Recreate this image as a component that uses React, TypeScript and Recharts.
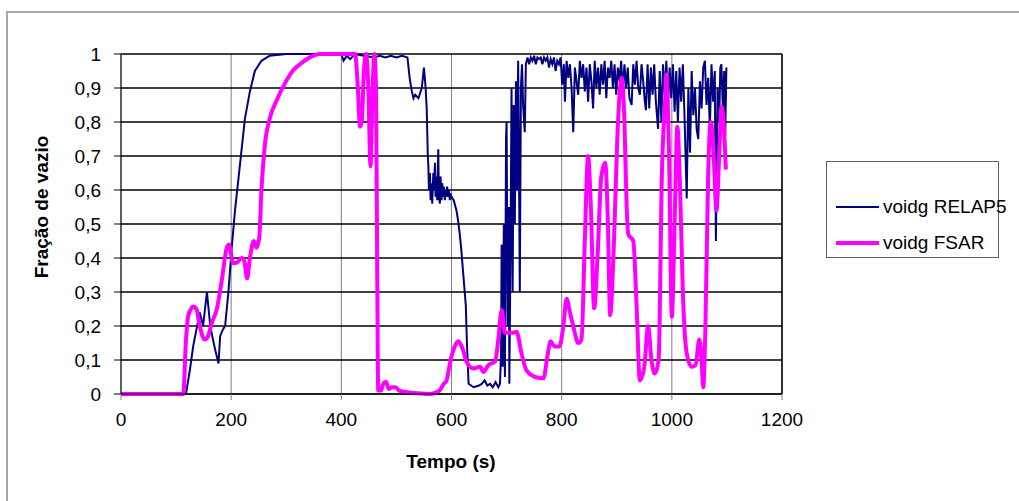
import { LineChart, Line, XAxis, YAxis, CartesianGrid, ReferenceLine } from 'recharts';

// RELAP5 void fraction (time in s, value)
const relapTime = [
  0, 100, 118, 125, 131, 137, 143, 149, 156, 162, 167, 171, 177, 180, 185, 189, 195, 201, 207, 213, 219, 225, 234, 243,
  255, 270, 300, 400, 404, 410, 416, 425, 440, 460, 470, 480, 490, 500, 510, 520, 524, 528, 531, 534, 540, 546, 550,
  553, 555, 557, 558, 559, 561, 562, 564, 565, 567, 568, 570, 571, 573, 574, 576, 577, 579, 580, 582, 583, 585, 586,
  588, 589, 591, 592, 594, 595, 597, 598, 600, 604, 609, 612, 615, 618, 621,
  624, 626, 628, 631, 640, 650, 655, 660, 665, 670, 675, 680, 685, 688, 690, 691, 693, 695, 697, 699, 700, 702, 704,
  705, 707, 709, 711, 713, 715, 717, 719, 721, 723, 724, 726, 728, 730, 733, 735, 738, 741, 744, 747, 750, 753, 756,
  759, 762, 765, 768, 771, 774, 777, 780, 783, 786, 789, 792, 795, 798, 801, 804, 806, 809, 812, 815, 818, 821, 824,
  827, 830, 833, 836, 839, 842, 845, 848, 851, 854, 857, 860, 863, 866, 869, 872, 875, 878, 881, 884, 887, 890, 893,
  896, 899, 902, 905, 908, 911, 914, 917, 920, 923, 927, 930, 933, 936, 939, 942, 945, 948, 951, 953, 956, 959, 962,
  965, 968, 971, 975, 978, 981, 984, 987, 990, 993, 996, 999, 1002, 1005, 1008, 1011, 1014, 1017, 1020, 1023, 1027,
  1030, 1033, 1036, 1039, 1042, 1045, 1048, 1051, 1054, 1057, 1060, 1063, 1066, 1069, 1072, 1075, 1078, 1080, 1083,
  1086, 1088, 1090, 1093, 1095, 1097, 1099,
];
const relapVoid = [
  0, 0, 0, 0.07, 0.14, 0.19, 0.24, 0.2, 0.3, 0.2, 0.16, 0.13, 0.09, 0.17, 0.19, 0.2, 0.3, 0.43, 0.54, 0.63, 0.72, 0.81,
  0.89, 0.95, 0.98, 0.995, 1, 1, 0.98, 0.995, 0.985, 1, 0.995, 0.99, 0.995, 0.99, 0.995, 0.99, 0.995, 0.99, 0.93, 0.89,
  0.87, 0.88, 0.87, 0.9, 0.96,
  0.9, 0.84, 0.7, 0.67, 0.6, 0.65, 0.57, 0.62, 0.56, 0.65, 0.6, 0.68, 0.58, 0.64, 0.57, 0.72, 0.58, 0.56, 0.64, 0.57,
  0.62, 0.58, 0.61, 0.57, 0.6, 0.58, 0.61, 0.58, 0.6, 0.57, 0.59, 0.58, 0.57, 0.54, 0.51, 0.47, 0.42, 0.36,
  0.3, 0.26, 0.15, 0.03, 0.02, 0.025, 0.03, 0.04, 0.025, 0.03, 0.02,
  0.035, 0.02, 0.03, 0.12, 0.44, 0.08, 0.5, 0.05, 0.75, 0.8, 0.2, 0.55, 0.03, 0.4, 0.9, 0.3, 0.85, 0.5, 0.92, 0.6,
  0.98, 0.55, 0.3, 0.9, 0.97, 0.85, 0.77, 0.97, 0.99, 0.97, 0.99, 0.98, 0.995, 0.97, 0.99, 0.985, 0.99, 0.97, 0.99,
  0.98, 0.99, 0.96, 0.985, 0.97, 0.99, 0.95, 0.98, 0.97, 0.99, 0.91, 0.97, 0.86, 0.98, 0.93, 0.97, 0.9, 0.77, 0.96,
  0.92, 0.88, 0.98, 0.93, 0.97, 0.89, 0.96, 0.86, 0.97, 0.92, 0.84, 0.98, 0.9, 0.96, 0.88, 0.97, 0.91, 0.98, 0.87,
  0.96, 0.93, 0.98, 0.9, 0.97, 0.88, 0.96, 0.92, 0.98, 0.89, 0.97, 0.9, 0.96, 0.87, 0.85, 0.97, 0.91, 0.98, 0.9, 0.88,
  0.97, 0.92, 0.86, 0.835, 0.97, 0.84, 0.96, 0.88, 0.97, 0.86, 0.78, 0.95, 0.8, 0.97, 0.88, 0.98, 0.85, 0.96, 0.87,
  0.97, 0.83, 0.95, 0.8, 0.96, 0.86, 0.97, 0.82, 0.575, 0.9, 0.71, 0.95, 0.82, 0.9, 0.78, 0.75, 0.92, 0.84, 0.96,
  0.98, 0.85, 0.93, 0.78, 0.97, 0.86, 0.95, 0.45, 0.9, 0.8, 0.96, 0.97, 0.82, 0.95, 0.76, 0.96,
];

// FSAR void fraction
const fsarTime = [
  0, 100, 113, 118, 122, 127, 131, 137, 143, 148, 152, 158, 165, 174, 183, 192, 196, 200, 203, 209, 219, 224, 229, 234,
  241, 246, 251, 255, 261, 270, 283, 298, 313, 325, 343, 361, 425, 430, 434, 437, 441, 445, 449, 453, 456, 460, 463,
  465, 467, 472, 476, 481, 486, 492, 498, 505, 520, 540, 561, 578, 586, 591, 596, 600, 606, 612, 617, 621, 626, 631,
  640, 652, 658, 667, 679, 685, 691, 697, 706, 712, 718, 727, 736, 752, 767, 774, 780, 787, 796, 803, 809, 815, 821,
  830, 836, 842, 848, 853, 859, 865, 872, 879, 884, 888, 895, 901, 909, 914, 918, 921, 930, 936, 942, 950, 957, 963,
  969, 976, 982, 988, 990, 995, 1000, 1005, 1010, 1015, 1020, 1027, 1036, 1043, 1050, 1054, 1057, 1061, 1066, 1071,
  1076, 1081, 1086, 1090, 1094, 1098,
];
const fsarVoid = [
  0, 0, 0, 0.16, 0.23, 0.25, 0.257, 0.25, 0.2, 0.17, 0.16, 0.17, 0.21, 0.25, 0.335, 0.43, 0.44, 0.41, 0.385, 0.385,
  0.4, 0.39, 0.34, 0.4, 0.45, 0.43, 0.46, 0.6, 0.73, 0.81, 0.865, 0.915, 0.953, 0.97, 0.99, 1, 1, 0.9, 0.786, 0.8,
  0.95, 1, 0.9, 0.67, 0.85, 1, 0.9, 0.4, 0.01, 0.01, 0.03, 0.036, 0.015, 0.02, 0.02, 0.01, 0.005, 0.002, 0, 0.01,
  0.03, 0.04, 0.08, 0.11, 0.14, 0.155, 0.145, 0.13, 0.1, 0.085, 0.075, 0.08, 0.065, 0.085, 0.095, 0.16, 0.247, 0.18,
  0.18, 0.18, 0.183, 0.12, 0.07, 0.05, 0.046, 0.11, 0.155, 0.14, 0.14, 0.2, 0.28, 0.24, 0.2, 0.15, 0.16, 0.45, 0.7,
  0.55, 0.252, 0.4, 0.64, 0.68, 0.5, 0.232, 0.45, 0.75, 0.93, 0.8, 0.55, 0.47, 0.45, 0.26, 0.04, 0.08, 0.2, 0.1, 0.06,
  0.1, 0.65, 0.87, 0.94, 0.7, 0.227, 0.5, 0.786, 0.6, 0.3, 0.12, 0.08, 0.085, 0.16, 0.1, 0.02, 0.2, 0.65, 0.8, 0.7,
  0.54, 0.7, 0.845, 0.8, 0.66,
];

const xTicks = [0, 200, 400, 600, 800, 1000, 1200];
const yTicks = [0, 0.1, 0.2, 0.3, 0.4, 0.5, 0.6, 0.7, 0.8, 0.9, 1];

const seriesNames = ['voidg RELAP5', 'voidg FSAR'];
const NAVY = '#000080';
const MAGENTA = '#ff00ff';
const FONT = '"Liberation Sans", Arial, sans-serif';

const relapData = relapTime.map((t, i) => ({ t, v: relapVoid[i] }));
const fsarData = fsarTime.map((t, i) => ({ t, v: fsarVoid[i] }));

const fmtY = (v: number) => String(Math.round(v * 10) / 10).replace('.', ',');

export default function App() {
  return (
    <div style={{ position: 'absolute', left: 0, top: 0, width: 1019, height: 501, background: '#fff', overflow: 'hidden', fontFamily: FONT }}>
      <div style={{ position: 'absolute', left: 6, top: 11, width: 1100, height: 600, border: '2px solid #a8a8a8' }} />
      <div style={{ position: 'absolute', left: 0, top: 0 }}>
        <LineChart width={1019} height={501} margin={{ top: 54, right: 237, left: 61, bottom: 77 }}>
          <CartesianGrid horizontal={false} stroke="#808080" strokeWidth={1} />
          <CartesianGrid vertical={false} stroke="#000" strokeWidth={1.6} />
          <XAxis
            dataKey="t"
            type="number"
            domain={[0, 1200]}
            ticks={xTicks}
            interval={0}
            height={30}
            stroke="#000"
            tickSize={6}
            tickMargin={13}
            tickLine={{ stroke: '#808080' }}
            tick={{ fill: '#000', fontSize: 19, fontFamily: FONT }}
            allowDuplicatedCategory={false}
          />
          <YAxis
            type="number"
            domain={[0, 1]}
            ticks={yTicks}
            interval={0}
            width={60}
            stroke="#000"
            tickSize={7}
            tickMargin={13}
            tickFormatter={fmtY}
            tick={{ fill: '#000', fontSize: 19, fontFamily: FONT }}
          />
          <ReferenceLine x={1200} stroke="#000" strokeWidth={1.5} />
          <Line
            data={relapData}
            dataKey="v"
            type="linear"
            stroke={NAVY}
            strokeWidth={2}
            dot={false}
            isAnimationActive={false}
            name={seriesNames[0]}
          />
          <Line
            data={fsarData}
            dataKey="v"
            type="monotone"
            stroke={MAGENTA}
            strokeWidth={4}
            dot={false}
            isAnimationActive={false}
            name={seriesNames[1]}
          />
        </LineChart>
      </div>
      <div
        style={{
          position: 'absolute', left: 42, top: 207, transform: 'translate(-50%, -50%) rotate(-90deg)',
          fontWeight: 'bold', fontSize: 19, whiteSpace: 'nowrap', color: '#000',
        }}
      >
        Fração de vazio
      </div>
      <div
        style={{
          position: 'absolute', left: 451, top: 462, transform: 'translate(-50%, -50%)',
          fontWeight: 'bold', fontSize: 19, whiteSpace: 'nowrap', color: '#000',
        }}
      >
        Tempo (s)
      </div>
      <div
        style={{
          position: 'absolute', left: 826, top: 161, width: 173, height: 97, border: '1px solid #606060',
          background: '#fff', boxSizing: 'border-box',
        }}
      >
        {seriesNames.map((name, i) => (
          <div key={name} style={{ position: 'absolute', left: 9, top: i === 0 ? 33 : 69, display: 'flex', alignItems: 'center', height: 24 }}>
            <div style={{ width: 43, height: i === 0 ? 2 : 4, background: i === 0 ? NAVY : MAGENTA }} />
            <span style={{ marginLeft: 4, fontSize: 19, whiteSpace: 'nowrap', color: '#000' }}>{name}</span>
          </div>
        ))}
      </div>
    </div>
  );
}
